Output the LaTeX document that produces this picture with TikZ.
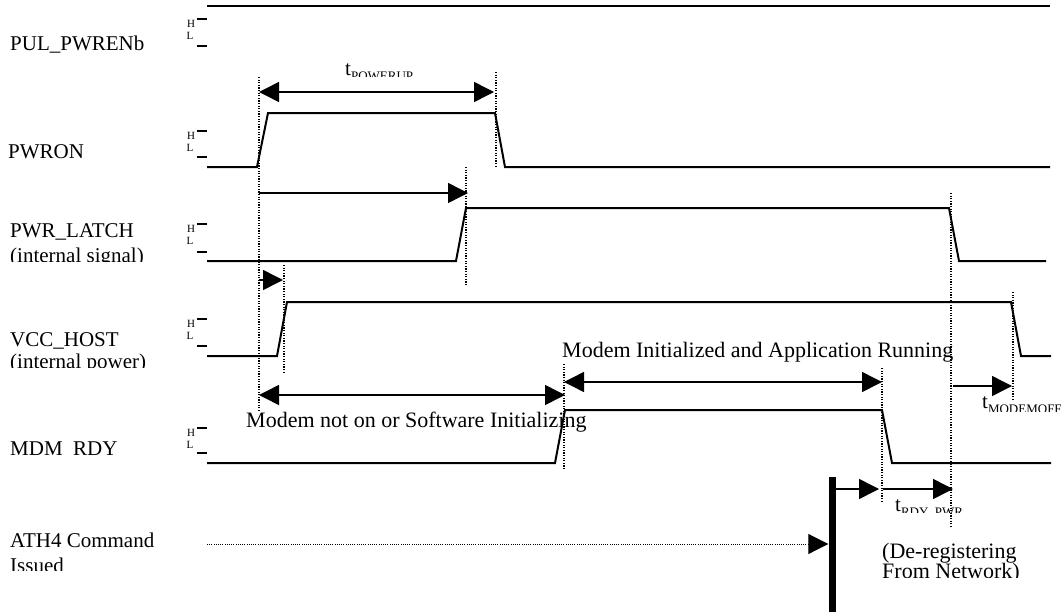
\documentclass[tikz,border=0pt]{standalone}
\usepackage{fontspec}
\setmainfont{Liberation Serif}
\usetikzlibrary{arrows.meta}
\tikzset{
  sig/.style={line width=2pt, line join=miter},
  vdot/.style={line width=1.3pt, dash pattern=on 1.2pt off 1.4pt},
  hdot/.style={line width=0.9pt, dash pattern=on 0.9pt off 1.3pt},
  tip/.tip={Triangle[length=20pt,width=20pt]},
  tim/.style={line width=1.5pt, -tip},
  timb/.style={line width=1.5pt, tip-tip},
  lbl/.style={inner sep=0pt, anchor=base west, font=\fontsize{21}{24}\selectfont},
  ann/.style={inner sep=0pt, anchor=base west, font=\fontsize{22}{24}\selectfont},
  hl/.style={inner sep=0pt, font=\fontsize{11}{11}\selectfont},
  hlmark/.style={line width=2pt},
}
\newcommand\tsub[1]{t\raisebox{-5pt}{\fontsize{13}{13}\selectfont #1}}
\newcommand\HLm[3]{%
  \draw[hlmark] (197,#1) -- (207,#1);
  \node[hl] (H#3) at (191,#1+4.5) {H};
  \node[hl] (L#3) at (190,#1+17) {L};
  \draw[hlmark] (197,#2) -- (207,#2);
}
\begin{document}
\begin{tikzpicture}[x=1pt,y=-1pt]
\useasboundingbox (0,0) rectangle (1063,613);
\begin{scope}
\clip (0,0) rectangle (1063,613);

% ---------- signal names ----------
\node[lbl] (n1) at (10,50) {PUL\_PWRENb};
\node[lbl] (n2) at (8,158) {PWRON};
\node[lbl] (n3) at (10,237) {PWR\_LATCH};
\begin{scope}\clip (0,240) rectangle (200,261);
\node[lbl] (n3b) at (10,262) {(internal signal)};\end{scope}
\node[lbl] (n4) at (10,346) {VCC\_HOST};
\begin{scope}\clip (0,350) rectangle (200,367);
\node[lbl] (n4b) at (10,368) {(internal power)};\end{scope}
\begin{scope}\clip (0,420) rectangle (200,455.5);
\node[lbl] (n5) at (10,455) {MDM\_RDY};\end{scope}
\node[lbl] (n6) at (10,547) {ATH4 Command};
\begin{scope}\clip (0,550) rectangle (200,570);
\node[lbl] (n6b) at (10,572) {Issued};\end{scope}

% ---------- H / L marks ----------
\HLm{19}{46}{a}
\HLm{131}{157}{b}
\HLm{224}{252}{c}
\HLm{319}{346}{d}
\HLm{428}{453}{e}

% ---------- waveforms ----------
\draw[sig] (207,6) -- (1050,6);
\draw[sig] (207,167) -- (257,167) -- (268,113) -- (495,113) -- (505,167) -- (1050,167);
\draw[sig] (207,261) -- (456,261) -- (466,208) -- (949,208) -- (959,261) -- (1046,261);
\draw[sig] (207,356) -- (277,356) -- (287,302) -- (1011,302) -- (1021,356) -- (1051,356);
\draw[sig] (207,463) -- (555,463) -- (565,410) -- (882,410) -- (892,463) -- (1051,463);

% ---------- dotted reference lines ----------
\coordinate (d1t) at (259,77);   \coordinate (d1b) at (259,410);
\coordinate (d2t) at (496,72);   \coordinate (d2b) at (496,167);
\coordinate (d3t) at (466,167);  \coordinate (d3b) at (466,285);
\coordinate (d4t) at (284,265);  \coordinate (d4b) at (284,372);
\coordinate (d5t) at (564,364);  \coordinate (d5b) at (564,470);
\coordinate (d6t) at (882,368);  \coordinate (d6b) at (882,502);
\coordinate (d7t) at (951,193);  \coordinate (d7b) at (951,527);
\coordinate (d8t) at (1013,292); \coordinate (d8b) at (1013,399);
\foreach \i in {1,...,8} {\draw[vdot] (d\i t) -- (d\i b);}

% ---------- timing arrows ----------
\coordinate (a1l) at (259,92);  \coordinate (a1r) at (494,92);
\draw[timb] (a1l) -- (a1r);
\begin{scope}\clip (300,50) rectangle (460,76);
\node[lbl] (tpu) at (345,75) {\tsub{POWERUP}};\end{scope}

\coordinate (a2l) at (259,193); \coordinate (a2r) at (468,193);
\draw[tim] (a2l) -- (a2r);

\coordinate (a3l) at (259,280); \coordinate (a3r) at (283,280);
\draw[tim] (a3l) -- (a3r);

\coordinate (a4l) at (259,395); \coordinate (a4r) at (565,395);
\draw[timb] (a4l) -- (a4r);
\node[ann] (mno) at (246,427) {Modem not on or Software Initializing};

\coordinate (a5l) at (564,382); \coordinate (a5r) at (882,382);
\draw[timb] (a5l) -- (a5r);
\node[ann] (mia) at (562,357) {Modem Initialized and Application Running};

\coordinate (a6l) at (953,386); \coordinate (a6r) at (1012,386);
\draw[tim] (a6l) -- (a6r);
\begin{scope}\clip (960,390) rectangle (1063,411);
\node[lbl] (tmo) at (982,408) {\tsub{MODEMOFF}};\end{scope}

% ---------- ATH4 command ----------
\node[fill=black, inner sep=0pt, minimum width=7pt, minimum height=135pt] (bar) at (832,544.5) {};
\coordinate (ath) at (207,544);
\draw[hdot, -tip] (ath) -- (bar.west |- ath);
\coordinate (b1) at (835,489); \coordinate (b2) at (879,489);
\draw[tim] (b1) -- (b2);
\coordinate (r1) at (883,489); \coordinate (r2) at (953,489);
\draw[tim] (r1) -- (r2);
\begin{scope}\clip (885,495) rectangle (1000,512);
\node[lbl] (trp) at (895,511) {\tsub{RDY\_PWR}};\end{scope}
\node[ann] (dr1) at (882,558) {(De-registering};
\begin{scope}\clip (870,562) rectangle (1063,577);
\node[ann] (dr2) at (882,578) {From Network)};\end{scope}

\end{scope}
\end{tikzpicture}
\end{document}
